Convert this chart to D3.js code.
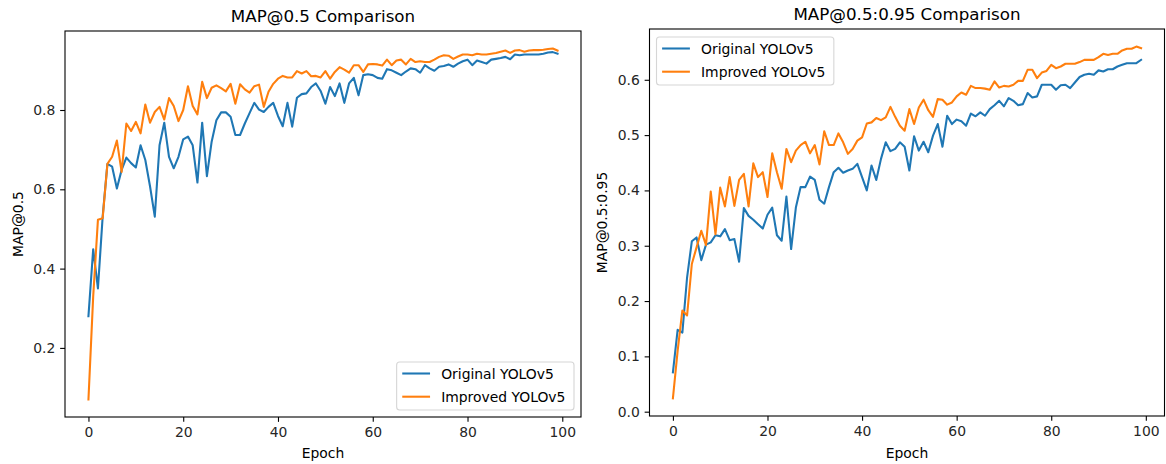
<!DOCTYPE html>
<html>
<head>
<meta charset="utf-8">
<script src="https://cdn.jsdelivr.net/npm/d3@7"></script>
<style>
  html, body { margin: 0; padding: 0; background: #fff; }
  svg { display: block; font-family: "DejaVu Sans", sans-serif; }
</style>
</head>
<body>
<svg id="chart" width="1166" height="464"></svg>
<script>
// ---------------- data ----------------
const seriesNames = ["Original YOLOv5", "Improved YOLOv5"];
const seriesColors = ["#1f77b4", "#ff7f0e"];

const map50Original = [
  0.28, 0.449, 0.35, 0.531, 0.664, 0.657, 0.602, 0.649, 0.68, 0.666,
  0.655, 0.711, 0.674, 0.607, 0.531, 0.711, 0.768, 0.682, 0.653, 0.682,
  0.726, 0.733, 0.711, 0.617, 0.768, 0.633, 0.72, 0.774, 0.794, 0.794,
  0.783, 0.737, 0.737, 0.766, 0.792, 0.818, 0.801, 0.795, 0.808, 0.818,
  0.785, 0.759, 0.818, 0.758, 0.831, 0.84, 0.842, 0.858, 0.867, 0.848,
  0.816, 0.858, 0.835, 0.867, 0.818, 0.867, 0.881, 0.837, 0.888, 0.89,
  0.888, 0.881, 0.879, 0.903, 0.9, 0.894, 0.888, 0.897, 0.905, 0.903,
  0.894, 0.913, 0.905, 0.899, 0.909, 0.911, 0.915, 0.909, 0.917, 0.923,
  0.927, 0.913, 0.925, 0.921, 0.917, 0.927, 0.929, 0.931, 0.934, 0.928,
  0.94, 0.938, 0.94, 0.94, 0.94, 0.94, 0.942, 0.945, 0.946, 0.942
];
const map50Improved = [
  0.07, 0.33, 0.523, 0.527, 0.664, 0.682, 0.723, 0.644, 0.766, 0.747,
  0.77, 0.741, 0.814, 0.768, 0.795, 0.808, 0.776, 0.83, 0.81, 0.772,
  0.80, 0.86, 0.81, 0.789, 0.871, 0.83, 0.856, 0.862, 0.855, 0.847,
  0.866, 0.816, 0.865, 0.852, 0.844, 0.86, 0.864, 0.808, 0.846, 0.866,
  0.879, 0.886, 0.882, 0.882, 0.898, 0.892, 0.898, 0.885, 0.886, 0.882,
  0.898, 0.879, 0.896, 0.908, 0.902, 0.894, 0.913, 0.913, 0.896, 0.915,
  0.916, 0.915, 0.912, 0.927, 0.913, 0.925, 0.927, 0.915, 0.929, 0.921,
  0.923, 0.921, 0.921, 0.927, 0.934, 0.938, 0.937, 0.929, 0.935, 0.94,
  0.94, 0.938, 0.942, 0.94, 0.94, 0.942, 0.944, 0.947, 0.95, 0.944,
  0.95, 0.951, 0.947, 0.95, 0.951, 0.951, 0.952, 0.954, 0.955, 0.95
];
const map5095Original = [
  0.071, 0.148, 0.143, 0.243, 0.308, 0.315, 0.274, 0.302, 0.306, 0.319,
  0.317, 0.330, 0.310, 0.312, 0.271, 0.368, 0.354, 0.347, 0.339, 0.331,
  0.356, 0.369, 0.319, 0.309, 0.389, 0.294, 0.369, 0.406, 0.406, 0.425,
  0.419, 0.383, 0.376, 0.406, 0.433, 0.441, 0.432, 0.436, 0.439, 0.448,
  0.424, 0.400, 0.445, 0.419, 0.457, 0.487, 0.471, 0.475, 0.487, 0.479,
  0.436, 0.498, 0.472, 0.488, 0.469, 0.499, 0.520, 0.479, 0.535, 0.520,
  0.528, 0.525, 0.517, 0.539, 0.534, 0.541, 0.535, 0.547, 0.554, 0.562,
  0.552, 0.567, 0.562, 0.554, 0.556, 0.576, 0.568, 0.570, 0.591, 0.591,
  0.591, 0.582, 0.590, 0.591, 0.585, 0.595, 0.605, 0.609, 0.611, 0.609,
  0.617, 0.615, 0.619, 0.619, 0.624, 0.627, 0.630, 0.630, 0.630, 0.636
];
const map5095Improved = [
  0.024, 0.11, 0.183, 0.174, 0.267, 0.297, 0.327, 0.301, 0.398, 0.321,
  0.405, 0.371, 0.424, 0.372, 0.419, 0.430, 0.371, 0.449, 0.424, 0.433,
  0.388, 0.467, 0.433, 0.403, 0.475, 0.451, 0.472, 0.482, 0.488, 0.467,
  0.482, 0.447, 0.507, 0.482, 0.482, 0.503, 0.487, 0.466, 0.475, 0.490,
  0.496, 0.521, 0.523, 0.531, 0.527, 0.532, 0.551, 0.533, 0.517, 0.508,
  0.547, 0.520, 0.550, 0.564, 0.545, 0.533, 0.565, 0.564, 0.555, 0.559,
  0.570, 0.577, 0.573, 0.589, 0.585, 0.585, 0.584, 0.582, 0.597, 0.586,
  0.589, 0.588, 0.591, 0.598, 0.598, 0.618, 0.618, 0.603, 0.613, 0.616,
  0.627, 0.621, 0.624, 0.629, 0.629, 0.629, 0.632, 0.636, 0.636, 0.636,
  0.641, 0.647, 0.645, 0.647, 0.647, 0.653, 0.656, 0.656, 0.660, 0.657
];

const xTicks = [0, 20, 40, 60, 80, 100];
const leftYTicks = [0.2, 0.4, 0.6, 0.8];
const rightYTicks = [0.0, 0.1, 0.2, 0.3, 0.4, 0.5, 0.6];

const panels = [
  { title: "MAP@0.5 Comparison", yLabel: "MAP@0.5", xLabel: "Epoch",
    series: [map50Original, map50Improved], yTicks: leftYTicks,
    box: { x0: 65, x1: 581, y0: 31, y1: 417 }, legend: "lower right", yLabelX: 18 },
  { title: "MAP@0.5:0.95 Comparison", yLabel: "MAP@0.5:0.95", xLabel: "Epoch",
    series: [map5095Original, map5095Improved], yTicks: rightYTicks,
    box: { x0: 649.5, x1: 1164.5, y0: 29, y1: 416 }, legend: "upper left", yLabelX: 602 }
];

// ---------------- drawing ----------------
const svg = d3.select("#chart");
const FS = 13.9;       // 10pt @100dpi
const TITLE_FS = 16.7; // 12pt
const TICK = 4.86, PAD = 4.86;

panels.forEach(p => {
  const n = p.series[0].length;
  const xMin = 0, xMax = n - 1;
  const xm = (xMax - xMin) * 0.05;
  const all = p.series.flat();
  const yMin = d3.min(all), yMax = d3.max(all);
  const ym = (yMax - yMin) * 0.05;

  const x = d3.scaleLinear().domain([xMin - xm, xMax + xm]).range([p.box.x0, p.box.x1]);
  const y = d3.scaleLinear().domain([yMin - ym, yMax + ym]).range([p.box.y1, p.box.y0]);

  const g = svg.append("g");

  const clipId = "clip" + Math.round(p.box.x0);
  g.append("clipPath").attr("id", clipId).append("rect")
    .attr("x", p.box.x0).attr("y", p.box.y0)
    .attr("width", p.box.x1 - p.box.x0).attr("height", p.box.y1 - p.box.y0);

  const line = d3.line().x((d, i) => x(i)).y(d => y(d));
  const lg = g.append("g").attr("clip-path", `url(#${clipId})`);
  p.series.forEach((s, k) => {
    lg.append("path").datum(s)
      .attr("d", line)
      .attr("fill", "none")
      .attr("stroke", seriesColors[k])
      .attr("stroke-width", 2.08)
      .attr("stroke-linejoin", "round")
      .attr("stroke-linecap", "square");
  });

  const xAxis = d3.axisBottom(x).tickValues(xTicks).tickSize(TICK).tickPadding(PAD)
    .tickFormat(d3.format("d"));
  const yAxis = d3.axisLeft(y).tickValues(p.yTicks).tickSize(TICK).tickPadding(PAD)
    .tickFormat(d3.format(".1f"));

  const gx = g.append("g").attr("transform", `translate(0,${p.box.y1})`).call(xAxis);
  const gy = g.append("g").attr("transform", `translate(${p.box.x0},0)`).call(yAxis);
  [gx, gy].forEach(a => {
    a.select(".domain").remove();
    a.selectAll(".tick line").attr("stroke", "#000").attr("stroke-width", 1.1);
    a.selectAll(".tick text").attr("fill", "#262626").style("font-size", FS + "px")
      .style("font-family", "DejaVu Sans, sans-serif");
  });

  g.append("rect")
    .attr("x", p.box.x0).attr("y", p.box.y0)
    .attr("width", p.box.x1 - p.box.x0).attr("height", p.box.y1 - p.box.y0)
    .attr("fill", "none").attr("stroke", "#000").attr("stroke-width", 1.1);

  const cx = (p.box.x0 + p.box.x1) / 2;
  g.append("text").attr("x", cx).attr("y", p.box.y0 - 8.6)
    .attr("text-anchor", "middle").style("font-size", TITLE_FS + "px")
    .attr("fill", "#000").text(p.title);
  g.append("text").attr("x", cx).attr("y", 458)
    .attr("text-anchor", "middle").style("font-size", FS + "px")
    .attr("fill", "#000").text(p.xLabel);
  const cy = (p.box.y0 + p.box.y1) / 2;
  g.append("text")
    .attr("transform", `translate(${p.yLabelX + 5},${cy}) rotate(-90)`)
    .attr("text-anchor", "middle").style("font-size", FS + "px")
    .attr("fill", "#000").text(p.yLabel);

  // legend
  const bp = 5.6, hl = 27.8, hp = 11.1, rowH = 23.2, axPad = 7;
  const leg = g.append("g");
  const tmp = leg.append("text").style("font-size", FS + "px");
  let tw = 0;
  seriesNames.forEach(t => { tmp.text(t); tw = Math.max(tw, tmp.node().getComputedTextLength()); });
  tmp.remove();
  const lw = bp + hl + hp + tw + bp + 3;
  const lh = 48;
  let lx, ly;
  if (p.legend === "lower right") { lx = p.box.x1 - axPad - lw; ly = p.box.y1 - axPad - lh; }
  else { lx = p.box.x0 + axPad; ly = p.box.y0 + axPad + 1; }
  leg.append("rect").attr("x", lx).attr("y", ly).attr("width", lw).attr("height", lh)
    .attr("rx", 3).attr("ry", 3)
    .attr("fill", "rgba(255,255,255,0.8)").attr("stroke", "#d6d6d6").attr("stroke-width", 1.1);
  seriesNames.forEach((name, k) => {
    const ry = ly + 11.5 + k * rowH;
    leg.append("line").attr("x1", lx + bp).attr("x2", lx + bp + hl)
      .attr("y1", ry).attr("y2", ry)
      .attr("stroke", seriesColors[k]).attr("stroke-width", 2.08);
    leg.append("text").attr("x", lx + bp + hl + hp).attr("y", ry).attr("dy", "0.36em")
      .style("font-size", FS + "px").attr("fill", "#000").text(name);
  });
});
</script>
</body>
</html>
